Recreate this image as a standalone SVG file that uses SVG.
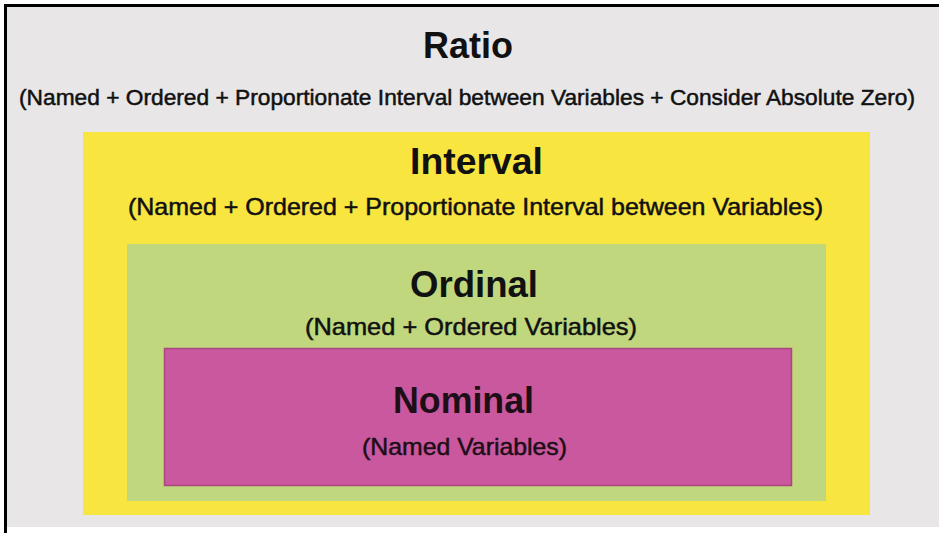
<svg xmlns="http://www.w3.org/2000/svg" width="939" height="533" viewBox="0 0 939 533">
<style>
.t{font-family:"Liberation Sans",Arial,sans-serif;font-weight:bold;font-size:37px;fill:#111;}
.s{font-family:"Liberation Sans",Arial,sans-serif;font-size:24px;fill:#111;stroke:#111;stroke-width:0.5px;}
</style>
<rect x="0" y="0" width="939" height="533" fill="#ffffff"/>
<g id="ratio">
<rect x="5" y="6" width="934" height="521" fill="#e8e6e6"/>
<text class="t" x="423" y="58" textLength="90" lengthAdjust="spacingAndGlyphs">Ratio</text>
<text class="s" x="19" y="105" textLength="896" lengthAdjust="spacingAndGlyphs" style="font-size:22.5px">(Named + Ordered + Proportionate Interval between Variables + Consider Absolute Zero)</text>
</g>
<g id="interval">
<rect x="83" y="132" width="787" height="383" fill="#f9e540"/>
<text class="t" x="410" y="174" textLength="133" lengthAdjust="spacingAndGlyphs">Interval</text>
<text class="s" x="128" y="215" textLength="695" lengthAdjust="spacingAndGlyphs">(Named + Ordered + Proportionate Interval between Variables)</text>
</g>
<g id="ordinal">
<rect x="127" y="244" width="699" height="257" fill="#c0d77e"/>
<text class="t" x="410" y="297" textLength="128" lengthAdjust="spacingAndGlyphs">Ordinal</text>
<text class="s" x="305" y="335" textLength="332" lengthAdjust="spacingAndGlyphs">(Named + Ordered Variables)</text>
</g>
<g id="nominal">
<rect x="164.5" y="348.5" width="627" height="137" fill="#c9589e" stroke="#a9477f" stroke-width="1.5"/>
<text class="t" x="393" y="413" textLength="141" lengthAdjust="spacingAndGlyphs" style="fill:#1e0e18">Nominal</text>
<text class="s" x="362" y="455" textLength="205" lengthAdjust="spacingAndGlyphs" style="fill:#1e0e18;stroke:#1e0e18">(Named Variables)</text>
</g>
<g id="frame">
<line x1="5.5" y1="4" x2="5.5" y2="533" stroke="#000" stroke-width="3"/>
<line x1="4" y1="5.5" x2="939" y2="5.5" stroke="#000" stroke-width="3"/>
</g>
<g id="connectors"></g>
</svg>
